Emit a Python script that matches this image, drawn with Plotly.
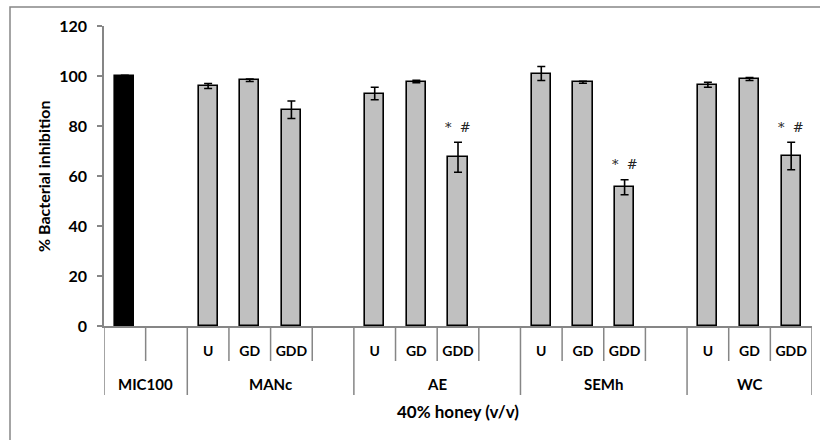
import plotly.graph_objects as go

# Group and treatment labels
groups = ["MIC100", "MANc", "AE", "SEMh", "WC"]
treatments = ["U", "GD", "GDD"]

# % bacterial inhibition (mean) and error (SD)
mic100_value = 100.0
mic100_error = 0.3

honey_values = {
    "MANc": [96.0, 98.3, 86.5],
    "AE": [93.0, 97.8, 67.5],
    "SEMh": [101.0, 97.5, 55.5],
    "WC": [96.5, 98.8, 68.0],
}
honey_errors = {
    "MANc": [1.0, 0.5, 3.5],
    "AE": [2.5, 0.5, 6.0],
    "SEMh": [2.8, 0.4, 3.0],
    "WC": [1.0, 0.6, 5.5],
}
# bars flagged with "* #"
significant = {
    "MANc": [False, False, False],
    "AE": [False, False, True],
    "SEMh": [False, False, True],
    "WC": [False, False, True],
}

AXIS_GREY = "#868686"
FONT = "Lato"

# Lay out the slots: MIC100 + blank, then each honey group (+ blank between groups)
slot_labels = []
group_spans = []
bar_x, bar_y, bar_err, bar_col = [], [], [], []
marks = []

pos = 0
group_spans.append(("MIC100", pos, pos + 1))
bar_x.append(pos)
bar_y.append(mic100_value)
bar_err.append(mic100_error)
bar_col.append("black")
slot_labels += ["", ""]
pos += 2

honey_groups = groups[1:]
for gi, g in enumerate(honey_groups):
    start = pos
    for ti, t in enumerate(treatments):
        bar_x.append(pos)
        bar_y.append(honey_values[g][ti])
        bar_err.append(honey_errors[g][ti])
        bar_col.append("#C0C0C0")
        if significant[g][ti]:
            marks.append((pos, honey_values[g][ti] + honey_errors[g][ti]))
        slot_labels.append(t)
        pos += 1
    if gi < len(honey_groups) - 1:
        slot_labels.append("")
        pos += 1
    group_spans.append((g, start, pos - 1))

n_slots = len(slot_labels)

fig = go.Figure()
fig.add_trace(go.Bar(
    x=bar_x,
    y=bar_y,
    width=0.46,
    marker=dict(color=bar_col, line=dict(color="black", width=1.6)),
    error_y=dict(type="data", array=bar_err, visible=True,
                 color="black", thickness=1.6, width=4),
    showlegend=False,
    hoverinfo="skip",
))

# Significance marks above error bars
for x, top in marks:
    fig.add_annotation(x=x, y=top, text="*  #", showarrow=False,
                       yshift=15, font=dict(family="DejaVu Serif", size=13, color="#222222"))

# Category axis separators (inner ticks + outer group dividers)
plot_h = 300
outer_edges = {-0.5, n_slots - 0.5}
for _, s, e in group_spans:
    outer_edges.add(s - 0.5)
    outer_edges.add(e + 0.5)
for i in range(n_slots + 1):
    b = i - 0.5
    depth = 69 if b in outer_edges else 35
    fig.add_shape(type="line", xref="x", yref="paper", x0=b, x1=b,
                  y0=0, y1=-depth / plot_h, line=dict(color=AXIS_GREY, width=1.5))

# Group labels
for g, s, e in group_spans:
    fig.add_annotation(x=(s + e) / 2, y=0, yref="paper", yshift=-58,
                       xanchor="center", yanchor="middle",
                       showarrow=False, text=g,
                       font=dict(family=FONT, size=15, color="black", weight="bold"))

fig.add_annotation(x=0.5, xref="paper", y=0, yref="paper", yshift=-85,
                   xanchor="center", yanchor="middle", showarrow=False,
                   text="40% honey (v/v)",
                   font=dict(family=FONT, size=17, color="black", weight="bold"))
fig.add_annotation(x=-61 / 708, xref="paper", y=0.5, yref="paper",
                   xanchor="center", yanchor="middle", showarrow=False,
                   text="% Bacterial inhibition", textangle=-90,
                   font=dict(family=FONT, size=16, color="black", weight="bold"))

# Outer chart frame
fig.add_shape(type="rect", xref="paper", yref="paper",
              x0=(10 - 104) / 708, x1=(830 - 104) / 708,
              y0=(326 - 450) / plot_h, y1=(326 - 7) / plot_h,
              line=dict(color=AXIS_GREY, width=1.5))

fig.update_layout(
    width=820, height=440,
    margin=dict(l=104, r=8, t=26, b=114),
    paper_bgcolor="white", plot_bgcolor="white",
    bargap=0,
    font=dict(family=FONT, color="black"),
    xaxis=dict(
        range=[-0.5, n_slots - 0.5],
        tickvals=list(range(n_slots)),
        ticktext=slot_labels,
        ticks="",
        ticklabelstandoff=11,
        showline=True, linecolor=AXIS_GREY, linewidth=1.5,
        showgrid=False, zeroline=False,
        tickfont=dict(family=FONT, size=14, color="black", weight="bold"),
    ),
    yaxis=dict(
        range=[0, 120], dtick=20,
        ticks="outside", ticklen=5, tickcolor=AXIS_GREY, tickwidth=1.5,
        ticklabelstandoff=7,
        showline=True, linecolor=AXIS_GREY, linewidth=1.5,
        showgrid=False, zeroline=False,
        tickfont=dict(family=FONT, size=16, color="black", weight="bold"),
    ),
)

fig.write_html("out.html", config={"displayModeBar": False},
               post_script="document.body.style.margin='0';")
